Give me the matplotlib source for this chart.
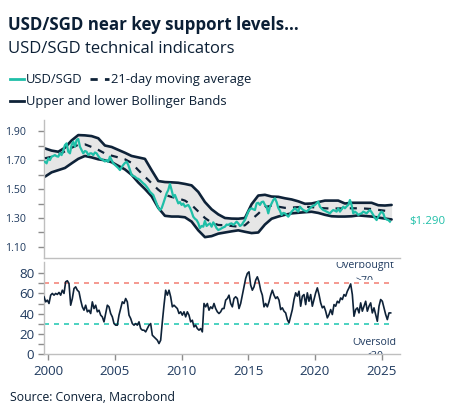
import numpy as np
import matplotlib
matplotlib.use("Agg")
import matplotlib.pyplot as plt
from matplotlib.lines import Line2D
from matplotlib.transforms import Bbox, TransformedBbox

plt.rcParams['font.family'] = ['Open Sans', 'DejaVu Sans']

# ---------------- data ----------------
title = "USD/SGD near key support levels..."
subtitle = "USD/SGD technical indicators"
source = "Source: Convera, Macrobond"
legend_labels = ["USD/SGD", "21-day moving average", "Upper and lower Bollinger Bands"]
last_label = "$1.290"

# USD/SGD spot, every 1/8 year starting 1999.75
spot_start, spot_step = 1999.75, 0.125
spot = [
    1.688, 1.677,
    1.712, 1.700, 1.723, 1.728, 1.734, 1.726, 1.723, 1.746,
    1.734, 1.765, 1.803, 1.815, 1.757, 1.746, 1.803, 1.826,
    1.792, 1.838, 1.845, 1.792, 1.769, 1.746, 1.762, 1.757,
    1.734, 1.746, 1.746, 1.734, 1.752, 1.746, 1.728, 1.712,
    1.705, 1.700, 1.690, 1.700, 1.688, 1.723, 1.700, 1.677,
    1.666, 1.654, 1.645, 1.631, 1.650, 1.666, 1.680, 1.688,
    1.666, 1.631, 1.597, 1.590, 1.585, 1.574, 1.570, 1.562,
    1.550, 1.539, 1.530, 1.516, 1.500, 1.481, 1.470, 1.459,
    1.430, 1.400, 1.370, 1.355, 1.367, 1.400, 1.436, 1.470,
    1.493, 1.535, 1.493, 1.447, 1.459, 1.430, 1.401, 1.410,
    1.390, 1.400, 1.378, 1.385, 1.390, 1.370, 1.343, 1.309,
    1.295, 1.286, 1.265, 1.230, 1.245, 1.240, 1.280, 1.245,
    1.255, 1.263, 1.240, 1.270, 1.252, 1.230, 1.217, 1.222,
    1.229, 1.235, 1.240, 1.255, 1.252, 1.260, 1.263, 1.252,
    1.262, 1.275, 1.263, 1.245, 1.252, 1.270, 1.286, 1.315,
    1.344, 1.360, 1.367, 1.360, 1.355, 1.401, 1.405, 1.390,
    1.410, 1.413, 1.390, 1.378, 1.332, 1.378, 1.400, 1.424,
    1.436, 1.410, 1.370, 1.350, 1.321, 1.335, 1.332, 1.320,
    1.309, 1.325, 1.344, 1.355, 1.367, 1.355, 1.344, 1.378,
    1.365, 1.355, 1.350, 1.344, 1.355, 1.367, 1.378, 1.385,
    1.390, 1.401, 1.413, 1.378, 1.365, 1.355, 1.350, 1.344,
    1.338, 1.332, 1.345, 1.355, 1.350, 1.344, 1.367, 1.344,
    1.360, 1.378, 1.367, 1.380, 1.390, 1.424, 1.390, 1.332,
    1.344, 1.335, 1.321, 1.328, 1.332, 1.344, 1.338, 1.332,
    1.345, 1.355, 1.340, 1.321, 1.300, 1.286, 1.309, 1.330,
    1.344, 1.332, 1.298, 1.290, 1.286, 1.275,
]

# Bollinger bands and moving average, every half year starting 1999.75
band_start, band_step = 1999.75, 0.5
upper = [1.780, 1.765, 1.757, 1.785, 1.835, 1.872, 1.870, 1.865, 1.850, 1.800,
         1.790, 1.770, 1.750, 1.728, 1.718, 1.708, 1.630, 1.555, 1.548, 1.546,
         1.543, 1.535, 1.525, 1.480, 1.410, 1.360, 1.325, 1.300, 1.296, 1.295,
         1.300, 1.395, 1.455, 1.460, 1.448, 1.446, 1.436, 1.428, 1.415, 1.398,
         1.400, 1.410, 1.420, 1.420, 1.420, 1.400, 1.405, 1.405, 1.405, 1.405,
         1.388, 1.386, 1.390]
lower = [1.585, 1.615, 1.630, 1.645, 1.677, 1.708, 1.728, 1.718, 1.705, 1.698,
         1.685, 1.660, 1.635, 1.598, 1.545, 1.500, 1.450, 1.370, 1.315, 1.310,
         1.310, 1.305, 1.275, 1.215, 1.168, 1.175, 1.192, 1.200, 1.208, 1.215,
         1.205, 1.196, 1.200, 1.255, 1.295, 1.310, 1.322, 1.332, 1.336, 1.340,
         1.343, 1.335, 1.322, 1.312, 1.310, 1.310, 1.312, 1.318, 1.314, 1.310,
         1.303, 1.296, 1.290]
ma = [1.712, 1.722, 1.735, 1.760, 1.785, 1.805, 1.808, 1.790, 1.770, 1.745,
      1.730, 1.718, 1.705, 1.680, 1.630, 1.585, 1.540, 1.495, 1.460, 1.445,
      1.435, 1.420, 1.390, 1.345, 1.300, 1.268, 1.252, 1.250, 1.245, 1.240,
      1.250, 1.290, 1.330, 1.375, 1.385, 1.378, 1.370, 1.372, 1.375, 1.378,
      1.375, 1.370, 1.367, 1.365, 1.366, 1.367, 1.367, 1.367, 1.365, 1.362,
      1.356, 1.350, 1.344]

# RSI, every 1/8 year starting 1999.68
rsi_start, rsi_step = 1999.68, 0.125
rsi = [
    56.7, 51.7, 53.4, 50.1, 58.3, 60, 58.3, 60, 59, 61,
    58.3, 63.2, 60, 71.5, 72.5, 69.8, 48.4, 55, 64.9, 66.5,
    63.2, 61.6, 53.4, 46.8, 43.5, 48.4, 41.9, 43.5, 40.2, 51.7,
    45.1, 48.4, 41.9, 43.5, 38.6, 36.9, 32, 40.2, 48.4, 46.8,
    40.2, 36.9, 30.3, 28.7, 28.7, 38.6, 45.1, 51.7, 50.1, 55,
    51.7, 38.6, 35.3, 30.3, 28.7, 30.3, 28.7, 32, 25.4, 23.8,
    23.8, 22.1, 25.4, 28.7, 30.3, 18.8, 17.2, 15.5, 13.9, 10.6,
    13.9, 32, 48.4, 63.2, 58.3, 63.2, 56.7, 46.8, 48.4, 46.8,
    45.1, 40.2, 41.9, 38.6, 41.9, 36.9, 41.9, 38.6, 32, 33.6,
    27, 28.7, 25.4, 23.8, 25.4, 22.1, 50.1, 46.8, 50.1, 43.5,
    46.8, 45.1, 50.1, 45.1, 41.9, 40.2, 41.9, 45.1, 45.1, 53.4,
    55, 58.3, 50.1, 46.8, 55, 56.7, 55, 45.1, 50.1, 58.3,
    66.5, 74.8, 79.7, 81.3, 68.2, 63.2, 66.5, 73.1, 76.4, 71.5,
    63.2, 58.3, 46.8, 50.1, 46.8, 51.7, 58.3, 63.2, 58.3, 55,
    56.7, 53.4,
    44.1, 45.8, 42.5, 40.8, 34.2, 31, 37.5, 44.1, 54, 60.6,
    57.3, 62.2, 47.4, 57.3, 58.9, 49, 60.6, 52.3, 58.9, 47.4,
    54, 60.6, 65.5, 58.9, 50.7, 45.8, 47.4, 42.5, 35.9, 39.2,
    44.1, 39.2, 49, 47.4, 52.3, 50.7, 55.6, 54, 58.9, 57.3,
    62.2, 65.5, 69.4, 58.9, 37.5, 44.1, 45.8, 40.8, 50.7, 42.5,
    47.4, 52.3, 42.5, 47.4, 50.7, 40.8, 45.8, 39.2, 32.6, 47.4,
    54, 52.3, 45.8, 39.2, 34.2, 40.8, 40.8,
]

overbought, oversold = 70, 30
year_ticks = [2000, 2005, 2010, 2015, 2020, 2025]
price_major = [1.10, 1.30, 1.50, 1.70, 1.90]
price_minor = [1.20, 1.40, 1.60, 1.80]
rsi_major = [0, 20, 40, 60, 80]
rsi_minor = [10, 30, 50, 70]

spot_x = spot_start + spot_step * np.arange(len(spot))
band_x = band_start + band_step * np.arange(len(upper))
rsi_x = rsi_start + rsi_step * np.arange(len(rsi))

# ---------------- style ----------------
TEAL = '#1FBFA8'
NAVY = '#0E2238'
FILL = '#E6E6E6'
SPINE = '#BFBFBF'
TICKC = '#8C8C8C'
LABC = '#1F3A5F'
TXT = '#0B1F35'

W, H = 453, 417
fig = plt.figure(figsize=(W / 100, H / 100), dpi=100)
def fx(px): return px / W
def fy(py): return 1 - py / H

ax1 = fig.add_axes([fx(44), fy(258.3), fx(356), (258.3 - 120) / H])
ax2 = fig.add_axes([fx(44), fy(354.3), fx(356), (354.3 - 262) / H])

xlim = (1999.68, 2026.38)

# top panel
ax1.fill_between(band_x, lower, upper, color=FILL, lw=0, zorder=1)
ax1.plot(band_x, upper, color=NAVY, lw=1.9, zorder=2, solid_capstyle='round')
ax1.plot(band_x, lower, color=NAVY, lw=1.9, zorder=2, solid_capstyle='round')
ax1.plot(band_x, ma, color=NAVY, lw=1.6, dashes=(3.2, 3.2), zorder=3)
ax1.plot(spot_x, spot, color=TEAL, lw=1.6, zorder=4)
ax1.set_xlim(*xlim)
ax1.set_ylim(1.022, 1.976)
ax1.set_yticks(price_major)
ax1.set_yticklabels([f"{v:.2f}" for v in price_major])
ax1.set_yticks(price_minor, minor=True)
ax1.tick_params(axis='y', which='both', length=4, width=1, color=TICKC,
                labelsize=7.6, labelcolor=LABC, pad=9)
ax1.tick_params(axis='x', length=0, labelbottom=False)
for s in ['top', 'right']:
    ax1.spines[s].set_visible(False)
for s in ['left', 'bottom']:
    ax1.spines[s].set_color(SPINE)
    ax1.spines[s].set_linewidth(1)
ax1.text(2027.1, spot[-1], last_label, color=TEAL, fontsize=8.2,
         va='center', ha='left', clip_on=False)

# bottom panel
ax2.hlines(overbought, rsi_x[0], rsi_x[-1], color='#F4877D', lw=1.2,
           linestyles=(0, (3, 3)), zorder=1)
ax2.hlines(oversold, rsi_x[0], rsi_x[-1], color='#2CCBB6', lw=1.2,
           linestyles=(0, (3, 3)), zorder=1)
ax2.plot(rsi_x, rsi, color=NAVY, lw=1.2, zorder=3)
ax2.set_xlim(*xlim)
ax2.set_ylim(0, 91)
ax2.set_yticks(rsi_major)
ax2.set_yticks(rsi_minor, minor=True)
ax2.set_xticks(year_ticks)
ax2.set_xticklabels([str(y) for y in year_ticks])
ax2.tick_params(axis='y', which='both', length=4, width=1, color=TICKC,
                labelsize=9.6, labelcolor=LABC, pad=3)
ax2.tick_params(axis='x', length=4, width=1, color=TICKC,
                labelsize=9.6, labelcolor=LABC, pad=4)
for s in ['top', 'right']:
    ax2.spines[s].set_visible(False)
for s in ['left', 'bottom']:
    ax2.spines[s].set_color(SPINE)
    ax2.spines[s].set_linewidth(1)

clip_ob = TransformedBbox(Bbox([[xlim[0], 73.4], [xlim[1], 91]]), ax2.transData)
clip_os = TransformedBbox(Bbox([[xlim[0], 0], [xlim[1], 15.8]]), ax2.transData)
for txt, xv, yv, clip in [("Overbought", 2023.75, 84.7, clip_ob),
                          (">70", 2023.75, 69.4, clip_ob),
                          ("Oversold", 2024.45, 8.7, clip_os),
                          ("<30", 2024.45, -4.8, clip_os)]:
    t = ax2.text(xv, yv, txt, ha='center', va='baseline', fontsize=7.6, color=LABC)
    t.set_clip_on(True)
    t.set_clip_box(clip)

# titles
fig.text(fx(8), fy(29.5), title, fontsize=12.2, fontweight='bold', color=TXT,
         ha='left', va='baseline')
fig.text(fx(8), fy(53.3), subtitle, fontsize=12.0, color=TXT, ha='left', va='baseline')

# legend (manual)
fig.add_artist(Line2D([fx(10), fx(24)], [fy(79.3), fy(79.3)], color=TEAL, lw=2,
                      transform=fig.transFigure))
fig.text(fx(26), fy(79.3), legend_labels[0], fontsize=9.4, color=TXT, ha='left', va='center')
fig.add_artist(Line2D([fx(90), fx(109)], [fy(79.3), fy(79.3)], color=NAVY, lw=2,
                      dashes=(2.6, 2.6), transform=fig.transFigure))
fig.text(fx(111), fy(79.3), legend_labels[1], fontsize=9.4, color=TXT, ha='left', va='center')
fig.add_artist(Line2D([fx(10), fx(24)], [fy(101.2), fy(101.2)], color=NAVY, lw=2,
                      transform=fig.transFigure))
fig.text(fx(26), fy(101.5), legend_labels[2], fontsize=9.4, color=TXT, ha='left', va='center')

fig.text(fx(10), fy(397.5), source, fontsize=8.8, color=TXT, ha='left', va='center')

fig.savefig("out.png", dpi=100)
